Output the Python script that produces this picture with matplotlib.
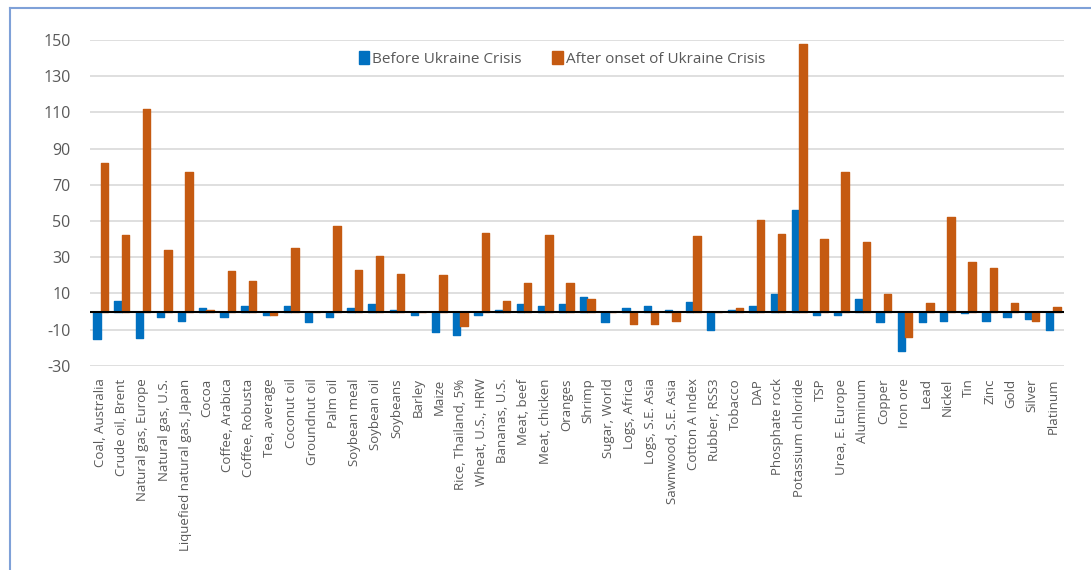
import matplotlib
matplotlib.use("Agg")
import matplotlib.pyplot as plt
import matplotlib.patches as mpatches
import numpy as np

plt.rcParams['font.family'] = ['Open Sans', 'DejaVu Sans']
plt.rcParams['axes.unicode_minus'] = False

commodities = ["Coal, Australia", "Crude oil, Brent", "Natural gas, Europe", "Natural gas, U.S.",
               "Liquefied natural gas, Japan", "Cocoa", "Coffee, Arabica", "Coffee, Robusta",
               "Tea, average", "Coconut oil", "Groundnut oil", "Palm oil", "Soybean meal",
               "Soybean oil", "Soybeans", "Barley", "Maize", "Rice, Thailand, 5%",
               "Wheat, U.S., HRW", "Bananas, U.S.", "Meat, beef", "Meat, chicken", "Oranges",
               "Shrimp", "Sugar, World", "Logs, Africa", "Logs, S.E. Asia", "Sawnwood, S.E. Asia",
               "Cotton A Index", "Rubber, RSS3", "Tobacco", "DAP", "Phosphate rock",
               "Potassium chloride", "TSP", "Urea, E. Europe", "Aluminum", "Copper", "Iron ore",
               "Lead", "Nickel", "Tin", "Zinc", "Gold", "Silver", "Platinum"]

before = [-15, 6, -14.5, -3, -5, 2, -3, 3, -2, 3, -6, -3, 2, 4, 1, -2, -11, -13,
          -2, 1, 4, 3, 4, 8, -6, 2, 3, 1, 5.5, -10, 1, 3, 9.5, 56, -2, -2, 7, -6,
          -22, -6, -5, -1, -5, -3, -4, -10]
after = [82, 42.5, 112, 34, 77, 1, 22.5, 17, -2, 35, 0, 47, 23, 30.5, 20.5, 0, 20, -8,
         43.5, 6, 16, 42.5, 16, 7, 0, -7, -7, -5, 42, 0, 2, 50.5, 43, 148, 40, 77,
         38.5, 9.5, -14, 5, 52.5, 27.5, 24, 5, -5, 2.5]

blue = '#0070C0'
orange = '#C55A11'

fig = plt.figure(figsize=(10.91, 5.70), dpi=100)
ax = fig.add_axes([0.0825, 0.358, 0.8925, 0.572])

x = np.arange(len(commodities))
w = 0.35
ax.bar(x - w / 2, before, w, color=blue, edgecolor=blue, linewidth=1, joinstyle='round', zorder=3)
ax.bar(x + w / 2, after, w, color=orange, edgecolor=orange, linewidth=1, joinstyle='round', zorder=3)

ax.set_xlim(-0.5, len(commodities) - 0.5)
ax.set_ylim(-30, 150)
ax.set_yticks(np.arange(-30, 151, 20))
ax.yaxis.grid(True, color='#D9D9D9', linewidth=1.2)
ax.set_axisbelow(True)
ax.axhline(0, color='black', linewidth=1.5, zorder=4)
for s in ax.spines.values():
    s.set_visible(False)
ax.tick_params(axis='both', length=0, colors='#595959')
ax.tick_params(axis='y', labelsize=11.5, pad=14)
ax.set_xticks(x)
ax.set_xticklabels(commodities, rotation=90, fontsize=9.5, color='#595959')
ax.tick_params(axis='x', pad=9)

handles = [mpatches.Patch(color=blue, label='Before Ukraine Crisis'),
           mpatches.Patch(color=orange, label='After onset of Ukraine Crisis')]
fig.legend(handles=handles, loc='center', bbox_to_anchor=(562 / 1091, 1 - 59 / 570), ncol=2,
           frameon=False, fontsize=11, labelcolor='#595959', handlelength=0.7,
           handleheight=0.9, handletextpad=0.2, columnspacing=2.0)

# outer frame (left and top visible)
fig.add_artist(plt.Line2D([10 / 1091, 10 / 1091], [0, 1 - 8 / 570], transform=fig.transFigure,
                          color='#7FA1D8', linewidth=1.5))
fig.add_artist(plt.Line2D([10 / 1091, 1], [1 - 8 / 570, 1 - 8 / 570], transform=fig.transFigure,
                          color='#7FA1D8', linewidth=1.5))

fig.savefig('out.png', dpi=100)
